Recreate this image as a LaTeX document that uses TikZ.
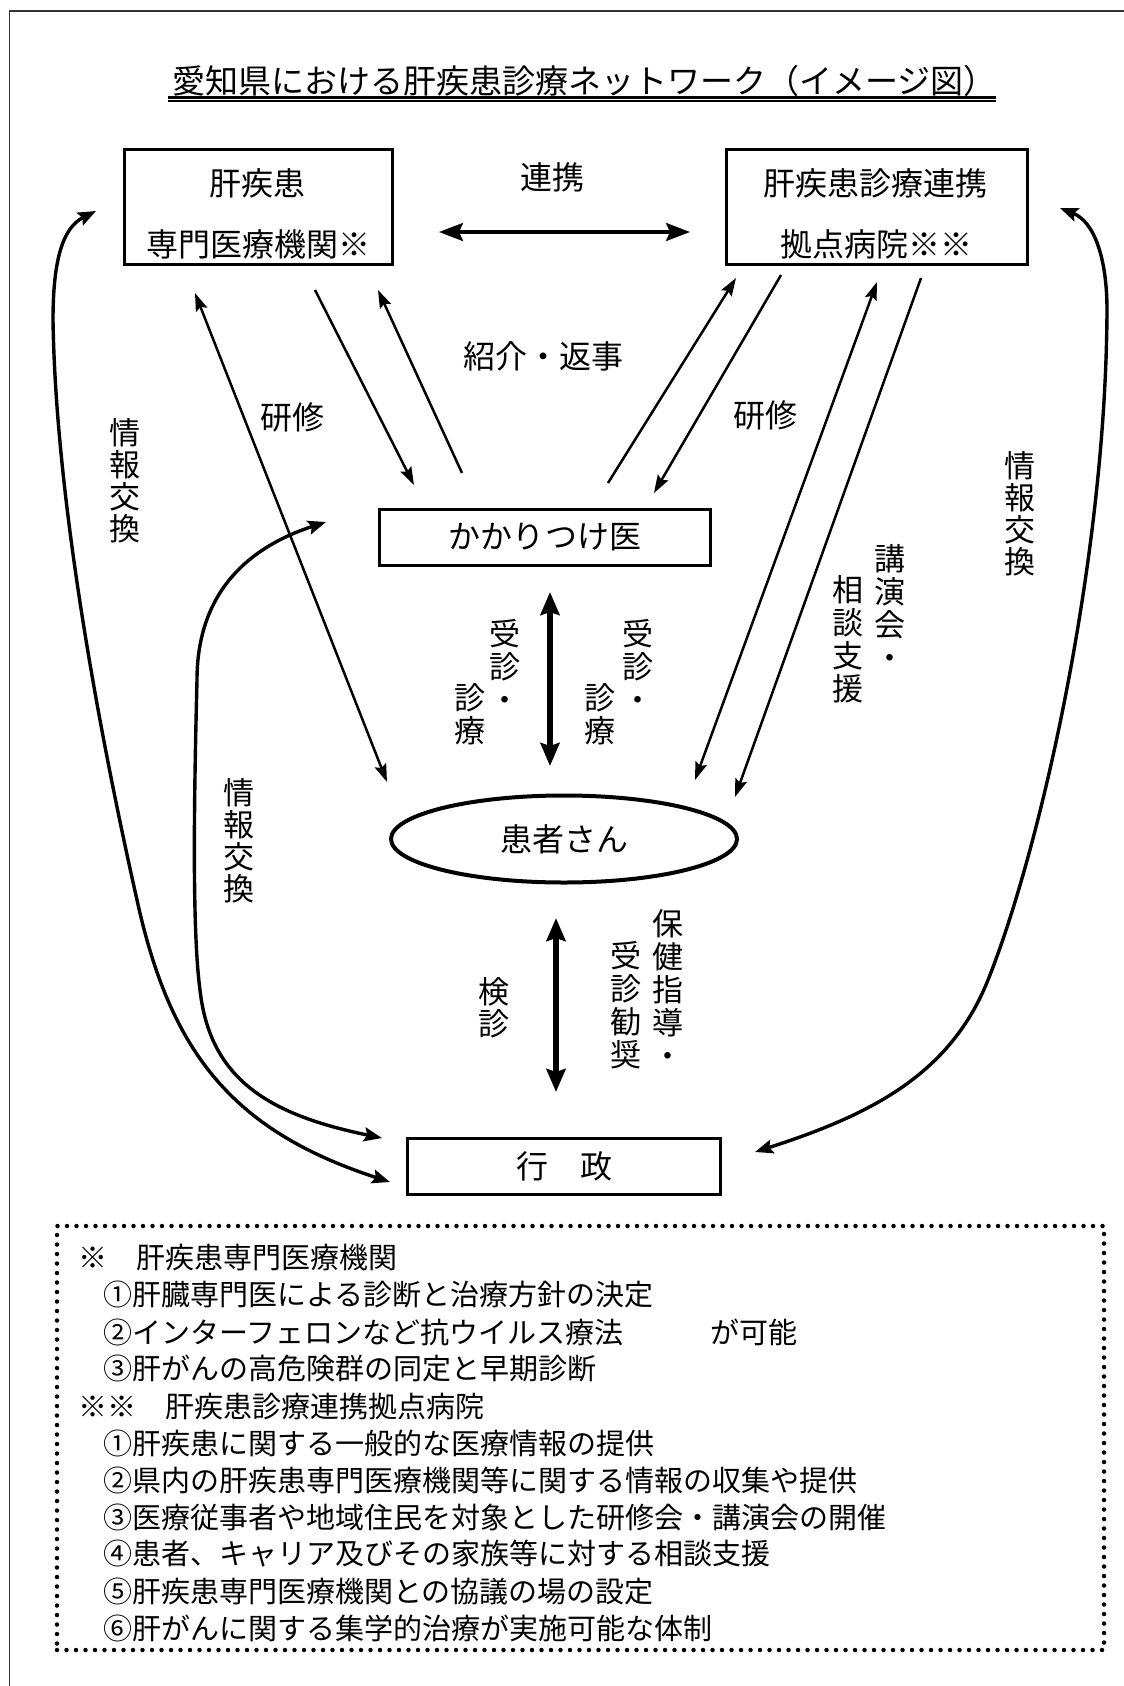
\documentclass[tikz,border=0pt]{standalone}
\usepackage{fontspec}
\setmainfont{Noto Sans CJK JP}
\usetikzlibrary{arrows.meta,shapes.geometric}
\begin{document}
\begin{tikzpicture}[x=1pt,y=-1pt]
\tikzset{
  boxn/.style={draw, line width=3pt, inner sep=0pt, font=\fontsize{32}{32}\selectfont},
  txt/.style={inner sep=0pt, font=\fontsize{32}{32}\selectfont, align=center},
  vtxt/.style={inner sep=0pt, font=\fontsize{31}{33}\selectfont, align=center},
  note/.style={inner sep=0pt, anchor=west, font=\fontsize{29}{29}\selectfont},
  thinarr/.style={line width=2.5pt, -{Stealth[length=18pt,width=12pt,inset=3pt]}},
  thindarr/.style={line width=2.5pt, {Stealth[length=18pt,width=12pt,inset=3pt]}-{Stealth[length=18pt,width=12pt,inset=3pt]}},
  curvarr/.style={line width=3.4pt, {Stealth[length=18pt,width=14pt,inset=3pt]}-{Stealth[length=18pt,width=14pt,inset=3pt]}},
  linkarr/.style={line width=3.4pt, {Stealth[length=24pt,width=18pt,inset=4pt]}-{Stealth[length=24pt,width=18pt,inset=4pt]}},
  thickarr/.style={line width=5.5pt, {Stealth[length=23pt,width=19pt,inset=3pt]}-{Stealth[length=23pt,width=19pt,inset=3pt]}},
}
\useasboundingbox (0,0) rectangle (1124,1686);
\fill[white] (0,0) rectangle (1124,1686);
\begin{scope}
  \clip (0,0) rectangle (1124,1686);
  \draw[line width=1.3pt, black!80] (9.5,1700) -- (9.5,11) -- (1140,11);
\end{scope}

% title
\node[inner sep=0pt, anchor=west, font=\fontsize{33}{33}\selectfont] (title) at (172,81) {愛知県における肝疾患診療ネットワーク（イメージ図）};
\draw[line width=2.4pt] (168,97.3) -- (996,97.3);
\draw[line width=1.8pt] (168,101.2) -- (996,101.2);

% boxes
\node[boxn, minimum width=268, minimum height=115] (spec) at (258.5,207) {};
\node[txt] (spect1) at (257,183) {肝疾患};
\node[txt] (spect2) at (258,244) {専門医療機関※};
\node[boxn, minimum width=301, minimum height=115] (hub) at (877,207) {};
\node[txt] (hubt1) at (875,183) {肝疾患診療連携};
\node[txt] (hubt2) at (876,244) {拠点病院※※};
\node[boxn, minimum width=331, minimum height=56] (gp) at (545,537) {かかりつけ医};
\node[draw, ellipse, line width=4pt, minimum width=346, minimum height=87, inner sep=0pt, font=\fontsize{32}{32}\selectfont] (pt) at (564,839) {患者さん};
\node[boxn, minimum width=313, minimum height=56] (gov) at (564,1166) {行　政};

% endpoints
\coordinate (lk1) at (439,232);  \coordinate (lk2) at (690,232);
\coordinate (a1) at (195,293);   \coordinate (a2) at (387,782);
\coordinate (b1) at (315,290);   \coordinate (b2) at (414,485);
\coordinate (c1) at (462,473);   \coordinate (c2) at (378,290);
\coordinate (d1) at (608,483);   \coordinate (d2) at (736,278);
\coordinate (e1) at (781,275);   \coordinate (e2) at (654,493);
\coordinate (f1) at (877,282);   \coordinate (f2) at (695,780);
\coordinate (g1) at (921,278);   \coordinate (g2) at (735,797);
\coordinate (u1) at (550,592);   \coordinate (u2) at (550,766);
\coordinate (v1) at (556,918);   \coordinate (v2) at (556,1092);
\coordinate (ol1) at (96,211);   \coordinate (ol2) at (390,1182);
\coordinate (il1) at (326,522);  \coordinate (il2) at (382,1138);
\coordinate (or1) at (1060,208); \coordinate (or2) at (755,1152);

% connectors
\draw[linkarr] (lk1) -- (lk2);
\draw[thindarr] (a1) -- (a2);
\draw[thinarr] (b1) -- (b2);
\draw[thinarr] (c1) -- (c2);
\draw[thinarr] (d1) -- (d2);
\draw[thinarr] (e1) -- (e2);
\draw[thindarr] (f1) -- (f2);
\draw[thinarr] (g1) -- (g2);
\draw[thickarr] (u1) -- (u2);
\draw[thickarr] (v1) -- (v2);
\draw[curvarr] (ol1) .. controls (62,228) and (53,262) .. (53,320)
   .. controls (56,520) and (110,780) .. (137,900)
   .. controls (170,1050) and (230,1130) .. (ol2);
\draw[curvarr] (il1) .. controls (240,550) and (197,600) .. (197,680)
   .. controls (194,800) and (192,930) .. (200,990)
   .. controls (210,1080) and (270,1115) .. (il2);
\draw[curvarr] (or1) .. controls (1095,222) and (1107,260) .. (1107,310)
   .. controls (1106,560) and (1040,850) .. (988,980)
   .. controls (950,1075) and (870,1115) .. (or2);

% labels
\node[txt] (l-link) at (552,177) {連携};
\node[txt] (l-ref) at (543,356) {紹介・返事};
\node[txt] (l-tr1) at (292,417) {研修};
\node[txt] (l-tr2) at (765,415) {研修};
\node[vtxt, font=\fontsize{31}{32}\selectfont] (l-infoL) at (125,481) {情\\報\\交\\換};
\node[vtxt, font=\fontsize{31}{32}\selectfont] (l-infoR) at (1020,514) {情\\報\\交\\換};
\node[vtxt, font=\fontsize{31}{32}\selectfont] (l-infoM) at (239,841) {情\\報\\交\\換};
\node[vtxt] (l-jL1) at (505,665) {受\\診\\・};
\node[vtxt] (l-jL2) at (470,714.5) {診\\療};
\node[vtxt] (l-jR1) at (638,665) {受\\診\\・};
\node[vtxt] (l-jR2) at (600,714.5) {診\\療};
\node[vtxt] (l-lec1) at (890,606.5) {講\\演\\会\\・};
\node[vtxt] (l-lec2) at (848,639.5) {相\\談\\支\\援};
\node[vtxt, font=\fontsize{31}{32}\selectfont] (l-ken) at (494,1008) {検\\診};
\node[vtxt] (l-hok1) at (668,989) {保\\健\\指\\導\\・};
\node[vtxt] (l-hok2) at (626,1005.5) {受\\診\\勧\\奨};

% notes
\node[draw, line width=4.5pt, line cap=round, dash pattern=on 0pt off 9.5pt, minimum width=1047, minimum height=424, inner sep=0pt] (notes) at (580.5,1438) {};
\node[note] (n1) at (78,1258) {※　肝疾患専門医療機関};
\node[note] (n2) at (103,1295) {①肝臓専門医による診断と治療方針の決定};
\node[note] (n3) at (103,1332) {②インターフェロンなど抗ウイルス療法　　　が可能};
\node[note] (n4) at (103,1369) {③肝がんの高危険群の同定と早期診断};
\node[note] (n5) at (78,1406) {※※　肝疾患診療連携拠点病院};
\node[note] (n6) at (103,1443) {①肝疾患に関する一般的な医療情報の提供};
\node[note] (n7) at (103,1480) {②県内の肝疾患専門医療機関等に関する情報の収集や提供};
\node[note] (n8) at (103,1517) {③医療従事者や地域住民を対象とした研修会・講演会の開催};
\node[note] (n9) at (103,1554) {④患者、キャリア及びその家族等に対する相談支援};
\node[note] (n10) at (103,1591) {⑤肝疾患専門医療機関との協議の場の設定};
\node[note] (n11) at (103,1628) {⑥肝がんに関する集学的治療が実施可能な体制};
\end{tikzpicture}
\end{document}
